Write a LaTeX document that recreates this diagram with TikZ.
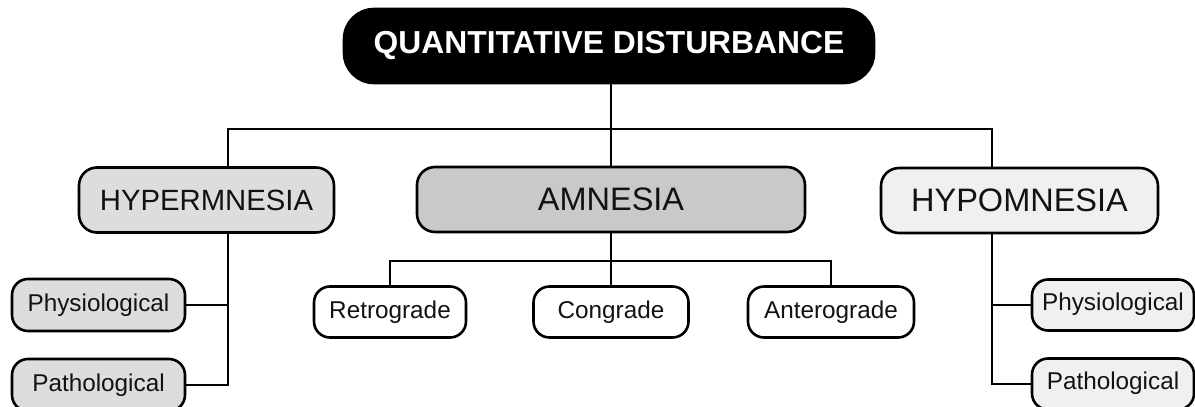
\documentclass[tikz,border=0pt]{standalone}
\usepackage{fontspec}
\setmainfont{Liberation Sans}
\definecolor{txt}{HTML}{121212}
\definecolor{fillmid}{HTML}{DCDDDF}
\definecolor{filldark}{HTML}{C8C9CB}
\definecolor{filllight}{HTML}{F0F0F0}
\tikzset{
  box/.style={draw=black, line width=2.6pt, rounded corners=18pt, inner sep=0pt, text=txt},
  mainbox/.style={box, minimum height=65pt},
  subbox/.style={box, rounded corners=16pt, minimum height=51pt,
    font=\fontsize{24.3}{29}\selectfont},
  conn/.style={line width=2.2pt, draw=black},
}
\newcommand{\lifted}[1]{\raisebox{6pt}{#1}}
\begin{document}
\begin{tikzpicture}[x=1pt, y=-1pt]
  \useasboundingbox (0,0) rectangle (1195,407);

  % root
  \node[box, fill=black, text=white, rounded corners=30pt,
        minimum width=530pt, minimum height=74pt,
        font=\fontsize{31.8}{37}\selectfont\bfseries] (root) at (609,46)
        {\raisebox{3pt}{QUANTITATIVE DISTURBANCE}};

  % second level
  \node[mainbox, fill=fillmid, minimum width=255pt,
        font=\fontsize{29.3}{35}\selectfont] (hyper) at (206.5,200) {HYPERMNESIA};
  \node[mainbox, fill=filldark, minimum width=388pt,
        font=\fontsize{32.5}{38}\selectfont] (amn) at (611,199.5) {AMNESIA};
  \node[mainbox, fill=filllight, minimum width=277pt,
        font=\fontsize{32.5}{38}\selectfont] (hypo) at (1019.5,200.5) {HYPOMNESIA};

  % amnesia types
  \node[subbox, fill=white, minimum width=152pt] (retro) at (390,312) {Retrograde};
  \node[subbox, fill=white, minimum width=155pt] (cong) at (611,312) {Congrade};
  \node[subbox, fill=white, minimum width=166pt] (ante) at (831,312) {Anterograde};

  % hypermnesia types
  \node[subbox, fill=fillmid, minimum width=173pt, minimum height=52pt] (lphys) at (98.5,305) {Physiological};
  \node[subbox, fill=fillmid, minimum width=173pt, minimum height=52pt] (lpath) at (98.5,385) {Pathological};

  % hypomnesia types
  \node[subbox, fill=filllight, minimum width=162pt] (rphys) at (1113,305) {\lifted{Physiological}};
  \node[subbox, fill=filllight, minimum width=162pt] (rpath) at (1113,384) {\lifted{Pathological}};

  % connectors
  \coordinate (hl) at (228,129);
  \coordinate (hr) at (992,129);
  \coordinate (al) at (390,261);
  \coordinate (ar) at (831,261);

  \draw[conn] (root.south -| amn.north) -- (amn.north);
  \draw[conn] (hyper.north -| hl) -- (hl) -- (hr) -- (hypo.north -| hr);

  \draw[conn] (amn.south) -- (cong.north);
  \draw[conn] (retro.north) -- (al) -- (ar) -- (ante.north);

  \draw[conn] (hyper.south -| hl) -- (hl |- lpath.east) -- (lpath.east);
  \draw[conn] (lphys.east) -- (lphys.east -| hl);

  \draw[conn] (hypo.south -| hr) -- (hr |- rpath.west) -- (rpath.west);
  \draw[conn] (rphys.west) -- (rphys.west -| hr);
\end{tikzpicture}
\end{document}
